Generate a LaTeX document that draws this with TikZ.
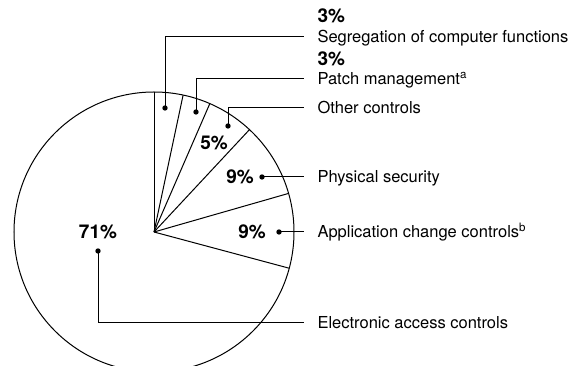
\documentclass[tikz,border=0pt]{standalone}
\usepackage{fontspec}
\setmainfont{TeX Gyre Heros}

\begin{document}
\begin{tikzpicture}[x=0.6pt, y=-0.6pt, line width=0.6pt,
		lbl/.style={anchor=west, inner sep=0pt, text height=.72em, text depth=0pt, font=\fontsize{9.9}{12}\selectfont},
		pct/.style={font=\fontsize{11.4}{13}\selectfont\bfseries, inner sep=0pt},
		dot/.style={circle, fill=black, inner sep=0pt, minimum size=3.2pt},
		lead/.style={shorten >=7.8pt}]
		\useasboundingbox (0,0) rectangle (570,366);
		\clip (0,0) rectangle (570,366);
		% pie
		\coordinate (ctr) at (154,232);
		\draw (ctr) circle[radius=140];
		\foreach \a in {90,78,66.5,47,16,-15}
			\draw (ctr) -- ++(-\a:140);
		% labels on the right
		\node[pct, anchor=base west] (segpct) at (317,23) {3\%};
		\node[lbl] (seg) at (317,37) {Segregation of computer functions};
		\node[pct, anchor=base west] (patchpct) at (317,66) {3\%};
		\node[lbl] (patch) at (317,79) {Patch management\textsuperscript{a}};
		\node[lbl] (other) at (317,108) {Other controls};
		\node[lbl] (phys) at (317,177) {Physical security};
		\node[lbl] (appl) at (317,232) {Application change controls\textsuperscript{b}};
		\node[lbl] (elec) at (317,323) {Electronic access controls};
		% values inside
		\node[pct] (otherpct) at (214,143) {5\%};
		\node[pct] (physpct) at (240,177) {9\%};
		\node[pct] (applpct) at (252,232) {9\%};
		\node[pct] (elecpct) at (98,232) {71\%};
		% dots
		\node[dot] (segdot) at (165,108) {};
		\node[dot] (patchdot) at (196,112) {};
		\node[dot] (otherdot) at (228,126) {};
		\node[dot] (physdot) at (262,177) {};
		\node[dot] (appldot) at (279,232) {};
		\node[dot] (elecdot) at (98,251) {};
		% leaders
		\draw[lead] (segdot.center) |- (seg.west);
		\draw[lead] (patchdot.center) |- (patch.west);
		\draw[lead] (otherdot.center) |- (other.west);
		\draw[lead] (physdot.center) -- (phys.west);
		\draw[lead] (appldot.center) -- (appl.west);
		\draw[lead] (elecdot.center) |- (elec.west);
\end{tikzpicture}
\end{document}
